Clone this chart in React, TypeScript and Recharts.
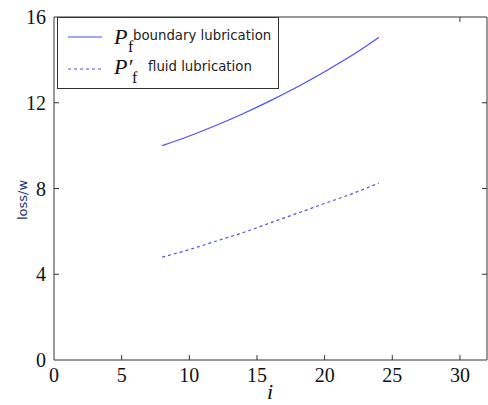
import React from 'react';
import { LineChart, Line, XAxis, YAxis, ReferenceLine } from 'recharts';

const iValues = [8, 10, 12, 14, 16, 18, 20, 22, 24];
const boundaryLoss = [10.0, 10.45, 10.95, 11.5, 12.1, 12.75, 13.45, 14.2, 15.05];
const fluidLoss = [4.8, 5.15, 5.55, 5.95, 6.4, 6.85, 7.3, 7.75, 8.25];
const xTicks = [0, 5, 10, 15, 20, 25, 30];
const yTicks = [0, 4, 8, 12, 16];
const boundaryLabel = 'boundary lubrication';
const fluidLabel = 'fluid lubrication';
const xLabel = 'i';
const yLabel = 'loss/w';

const data = iValues.map((i, k) => ({ i, boundary: boundaryLoss[k], fluid: fluidLoss[k] }));

const BLUE = '#4d4dff';
const AXC = '#333';

export default function App() {
  return (
    <div style={{ position: 'absolute', left: 0, top: 0, width: 488, height: 405, background: '#fff' }}>
      <LineChart width={488} height={405} data={data} margin={{ top: 17, right: 1, left: 0, bottom: 0 }}>
        <XAxis dataKey="i" type="number" domain={[0, 32]} ticks={xTicks} height={45} stroke={AXC} tickLine={false} tick={{ fontFamily: 'Liberation Serif', fontSize: 20, fill: '#111' }} />
        <YAxis domain={[0, 16]} ticks={yTicks} width={54} stroke={AXC} tickLine={false} tick={{ fontFamily: 'Liberation Serif', fontSize: 20, fill: '#111' }} />
        <ReferenceLine y={16} stroke={AXC} strokeWidth={1} />
        <ReferenceLine x={32} stroke={AXC} strokeWidth={1} />
        <ReferenceLine segment={[{ x: 5, y: 0 }, { x: 5, y: 0.23 }]} stroke={AXC} />
        <ReferenceLine segment={[{ x: 10, y: 0 }, { x: 10, y: 0.23 }]} stroke={AXC} />
        <ReferenceLine segment={[{ x: 15, y: 0 }, { x: 15, y: 0.23 }]} stroke={AXC} />
        <ReferenceLine segment={[{ x: 20, y: 0 }, { x: 20, y: 0.23 }]} stroke={AXC} />
        <ReferenceLine segment={[{ x: 25, y: 0 }, { x: 25, y: 0.23 }]} stroke={AXC} />
        <ReferenceLine segment={[{ x: 30, y: 0 }, { x: 30, y: 0.23 }]} stroke={AXC} />
        <ReferenceLine segment={[{ x: 0, y: 4 }, { x: 0.37, y: 4 }]} stroke={AXC} />
        <ReferenceLine segment={[{ x: 0, y: 8 }, { x: 0.37, y: 8 }]} stroke={AXC} />
        <ReferenceLine segment={[{ x: 0, y: 12 }, { x: 0.37, y: 12 }]} stroke={AXC} />
        <ReferenceLine segment={[{ x: 30, y: 16 }, { x: 30, y: 15.77 }]} stroke={AXC} />
        <ReferenceLine segment={[{ x: 32, y: 4 }, { x: 31.63, y: 4 }]} stroke={AXC} />
        <ReferenceLine segment={[{ x: 32, y: 8 }, { x: 31.63, y: 8 }]} stroke={AXC} />
        <ReferenceLine segment={[{ x: 32, y: 12 }, { x: 31.63, y: 12 }]} stroke={AXC} />
        <Line type="monotone" dataKey="boundary" stroke={BLUE} strokeWidth={1.2} dot={false} isAnimationActive={false} />
        <Line type="monotone" dataKey="fluid" stroke={BLUE} strokeWidth={1.2} strokeDasharray="3 3" dot={false} isAnimationActive={false} />
      </LineChart>
      <svg style={{ position: 'absolute', left: 0, top: 160 }} width={40} height={80}>
        <text x={27} y={40} transform="rotate(-90 27 40)" textAnchor="middle" fontFamily="DejaVu Sans" fontSize={13} fill="#1f2f6f">{yLabel}</text>
      </svg>
      <svg style={{ position: 'absolute', left: 255, top: 380 }} width={30} height={25}>
        <text x={15} y={19} textAnchor="middle" fontFamily="Liberation Serif" fontStyle="italic" fontSize={22} fill="#111">{xLabel}</text>
      </svg>
      <svg style={{ position: 'absolute', left: 57, top: 17 }} width={222} height={72}>
        <rect x={0.5} y={0.5} width={221} height={71} fill="#fff" stroke="#333" strokeWidth={1} />
        <line x1={11} x2={45} y1={20} y2={20} stroke={BLUE} strokeWidth={1.2} />
        <text x={57} y={27} fontFamily="Liberation Serif" fontStyle="italic" fontSize={22} fill="#111">P</text>
        <text x={71} y={35} fontFamily="Liberation Serif" fontSize={16} fill="#111">f</text>
        <text x={76} y={23} fontFamily="DejaVu Sans" fontSize={13.3} fill="#222">{boundaryLabel}</text>
        <line x1={11} x2={45} y1={52} y2={52} stroke={BLUE} strokeWidth={1.2} strokeDasharray="3 3" />
        <text x={57} y={57} fontFamily="Liberation Serif" fontStyle="italic" fontSize={22} fill="#111">P′</text>
        <text x={75} y={66} fontFamily="Liberation Serif" fontSize={16} fill="#111">f</text>
        <text x={91} y={54} fontFamily="DejaVu Sans" fontSize={13.3} fill="#222">{fluidLabel}</text>
      </svg>
    </div>
  );
}
